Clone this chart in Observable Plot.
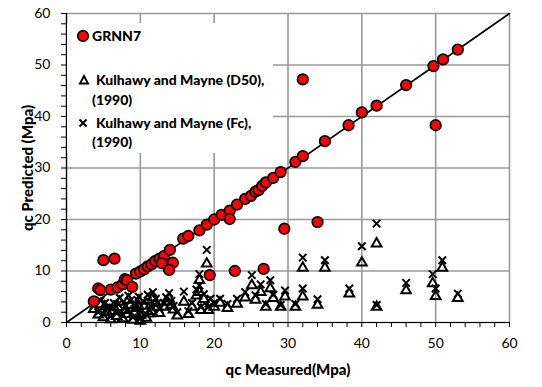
<!DOCTYPE html>
<html>
<head>
<meta charset="utf-8">
<script src="https://cdn.jsdelivr.net/npm/d3@7"></script>
<script src="https://cdn.jsdelivr.net/npm/@observablehq/plot@0.6"></script>
<style>
  body { margin: 0; background: #fff; }
  #wrap { position: relative; width: 542px; height: 387px; font-family: Lato, "Open Sans", sans-serif; }
  #legend { position: absolute; left: 67px; top: 23px; width: 206px; height: 130px; background: #fff; }
  .lg { position: absolute; font-weight: 900; font-size: 14px; line-height: 14px; white-space: nowrap; color: #000; }
  .sym { position: absolute; }
</style>
</head>
<body>
<div id="wrap">
  <div id="chart"></div>
  <div id="legend">
    <svg class="sym" style="left:9px;top:6px" width="14" height="14"><circle cx="7" cy="7" r="5.3" fill="#ff0000" stroke="#000" stroke-width="1.7"/></svg>
    <div class="lg" style="left:25px;top:6px">GRNN7</div>
    <svg class="sym" style="left:11px;top:51px" width="12" height="12"><path d="M6,2 L10,9.5 L2,9.5 Z" fill="none" stroke="#000" stroke-width="1.9"/></svg>
    <div class="lg" style="left:29px;top:50px">Kulhawy and Mayne (D50),</div>
    <div class="lg" style="left:25px;top:70px">(1990)</div>
    <svg class="sym" style="left:10px;top:94px" width="12" height="12"><path d="M2.5,2.5 L9.5,9.5 M9.5,2.5 L2.5,9.5" stroke="#000" stroke-width="2"/></svg>
    <div class="lg" style="left:29px;top:93px">Kulhawy and Mayne (Fc),</div>
    <div class="lg" style="left:25px;top:112px">(1990)</div>
  </div>
</div>
<script>
// GRNN7 model: measured vs predicted qc (MPa)
const grnnMeasured  = [3.7, 4.3, 4.6, 5.0, 6.5, 6.0, 6.9, 7.6, 7.9, 8.2, 8.9, 9.4, 10.0, 10.5, 11.0, 11.5, 12.0, 12.6, 13.2, 14.0, 12.9, 14.4, 13.9, 15.8, 16.5, 18.0, 19.0, 20.0, 21.0, 22.1, 22.1, 23.1, 24.2, 25.0, 25.6, 26.0, 26.5, 27.0, 28.0, 29.0, 31.0, 32.0, 35.0, 38.2, 40.0, 42.0, 46.0, 49.7, 51.0, 53.0, 32.0, 50.0, 29.5, 34.0, 19.4, 22.8, 26.7];
const grnnPredicted = [4.1, 6.6, 6.3, 12.1, 12.4, 6.4, 6.8, 7.4, 8.4, 8.2, 6.9, 9.5, 9.9, 10.3, 10.9, 11.3, 11.9, 12.4, 12.9, 14.1, 11.5, 11.6, 10.2, 16.3, 16.8, 17.9, 19.0, 20.0, 20.9, 21.7, 20.1, 22.9, 24.0, 24.6, 25.4, 25.7, 26.5, 27.2, 28.1, 29.2, 31.2, 32.3, 35.2, 38.3, 40.8, 42.1, 46.1, 49.8, 51.1, 53.0, 47.2, 38.3, 18.2, 19.5, 9.2, 10.0, 10.4];

// Kulhawy and Mayne (1990): measured qc, predicted with D50 and with Fc
const kmMeasured = [3.7, 4.3, 4.6, 5.0, 5.5, 6.0, 6.4, 6.8, 7.2, 7.6, 8.0, 8.2, 8.6, 9.0, 9.4, 9.8, 10.0, 10.0, 10.5, 10.8, 11.0, 11.5, 11.7, 12.1, 12.6, 13.2, 13.9, 14.5, 15.0, 15.9, 16.5, 17.0, 18.0, 18.0, 18.2, 19.0, 19.5, 20.0, 20.8, 21.8, 23.1, 24.2, 25.1, 25.6, 26.3, 27.0, 27.6, 28.0, 29.0, 29.6, 31.0, 32.0, 32.0, 34.0, 35.0, 38.3, 40.0, 42.0, 42.0, 46.0, 49.6, 50.0, 50.9, 53.0, 5.2, 6.2, 7.0, 8.4, 9.2, 9.6, 11.2, 12.3, 13.5, 14.2, 17.6, 18.6, 19.2];
const kmD50 = [2.6, 1.5, 3.5, 1.0, 2.0, 0.6, 3.0, 1.2, 4.0, 0.8, 2.4, 1.6, 3.4, 0.5, 2.8, 4.2, 0.3, 1.4, 3.2, 0.9, 4.4, 2.2, 4.8, 3.8, 1.8, 3.0, 4.6, 2.5, 1.3, 4.0, 1.6, 3.0, 8.2, 5.9, 2.4, 11.4, 3.7, 3.0, 3.8, 2.8, 3.6, 4.8, 7.2, 4.4, 5.9, 3.0, 6.6, 4.7, 3.0, 5.0, 3.0, 10.6, 5.0, 3.4, 10.6, 5.6, 11.6, 15.3, 3.0, 6.2, 7.6, 5.1, 10.6, 4.7, 3.1, 2.2, 2.9, 4.4, 1.9, 3.6, 1.7, 3.0, 4.0, 3.4, 5.2, 4.5, 2.4];
const kmFc  = [3.2, 2.0, 4.2, 1.6, 2.8, 1.2, 3.8, 1.8, 4.8, 1.4, 3.2, 2.2, 4.2, 1.0, 3.6, 5.0, 0.8, 2.1, 4.0, 1.6, 5.4, 3.0, 5.9, 4.6, 2.6, 3.8, 5.7, 3.2, 2.0, 6.0, 2.2, 3.8, 9.4, 7.2, 3.0, 14.1, 4.6, 3.8, 4.6, 3.6, 4.6, 5.9, 9.2, 5.3, 7.4, 3.6, 8.2, 5.4, 3.4, 6.2, 3.6, 12.6, 6.6, 4.5, 12.1, 6.6, 14.8, 19.2, 3.4, 7.7, 9.4, 6.6, 12.1, 5.6, 3.8, 2.9, 3.6, 5.2, 2.6, 4.4, 2.4, 3.8, 4.9, 4.2, 6.4, 5.5, 3.0];

const xTickLabels = [0, 10, 20, 30, 40, 50, 60];
const yTickLabels = [0, 10, 20, 30, 40, 50, 60];
const xMinorTicks = d3.range(0, 61, 2);
const yMinorTicks = d3.range(0, 61, 2);
const diagonal = [0, 60];

const grnn = grnnMeasured.map((m, i) => ({m, p: grnnPredicted[i]}));
const km = kmMeasured.map((m, i) => ({m, d50: kmD50[i], fc: kmFc[i]}));

const chart = Plot.plot({
  width: 542,
  height: 387,
  marginLeft: 66,
  marginRight: 33,
  marginTop: 13,
  marginBottom: 65,
  x: {domain: [0, 60]},
  y: {domain: [0, 60]},
  style: {fontFamily: "Lato, 'Open Sans', sans-serif", fontSize: "14px", color: "#000", background: "#fff", overflow: "visible"},
  marks: [
    Plot.gridX(xTickLabels, {stroke: "#999", strokeOpacity: 1, strokeWidth: 1.6}),
    Plot.gridY(yTickLabels, {stroke: "#999", strokeOpacity: 1, strokeWidth: 1.6}),
    Plot.axisX(xMinorTicks, {tickSize: 5, tickPadding: 11, tickFormat: d => d % 10 === 0 ? d : "", stroke: "#000", strokeWidth: 1, fontSize: 14,
      label: "qc Measured(Mpa)", labelAnchor: "center", labelArrow: "none", labelOffset: 52}),
    Plot.axisY(yMinorTicks, {tickSize: 5, tickPadding: 11, tickFormat: d => d % 10 === 0 ? d : "", stroke: "#000", strokeWidth: 1, fontSize: 14,
      label: "qc Predicted (Mpa)", labelAnchor: "center", labelArrow: "none", labelOffset: 44}),
    Plot.line(diagonal, {x: d => d, y: d => d, stroke: "#000", strokeWidth: 1.6}),
    Plot.dot(km, {x: "m", y: "d50", symbol: "triangle", r: 3.6, stroke: "#000", strokeWidth: 2, fill: "none"}),
    Plot.dot(km, {x: "m", y: "fc", symbol: "times", r: 3.5, stroke: "#000", strokeWidth: 2}),
    Plot.dot(grnn, {x: "m", y: "p", r: 5.3, fill: "#ff0000", stroke: "#000", strokeWidth: 1.7}),
    Plot.ruleX([0], {stroke: "#000", strokeWidth: 1.2}),
    Plot.ruleY([0], {stroke: "#000", strokeWidth: 1.2})
  ]
});
d3.select(chart).selectAll('[aria-label="x-axis label"], [aria-label="y-axis label"]')
  .attr("font-weight", 900).attr("font-size", 15);
document.getElementById("chart").appendChild(chart);
</script>
</body>
</html>
